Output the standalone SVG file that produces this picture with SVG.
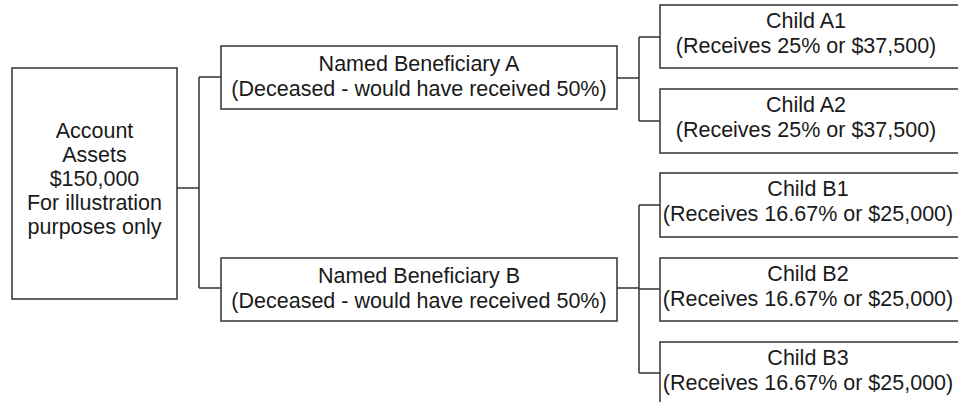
<svg xmlns="http://www.w3.org/2000/svg" width="958" height="402" viewBox="0 0 958 402">
<style>
.box{fill:#fff;stroke:#333;stroke-width:1.5}
.t{font-family:"Liberation Sans",Arial,sans-serif;font-size:21.5px;fill:#1a1a1a;text-anchor:middle}
.c{fill:none;stroke:#333;stroke-width:1.5}
</style>
<rect width="958" height="402" fill="#fff"/>
<g id="connectors">
<path class="c" d="M177,188H199M199,77V288M199,77H221M199,288H221"/>
<path class="c" d="M617,78H639M639,37V121M639,37H660M639,121H660"/>
<path class="c" d="M617,288H639M639,205V373M639,205H660M639,289H660M639,373H660"/>
</g>
<g id="account">
<rect class="box" x="12" y="68" width="165" height="231"/>
<text class="t" x="94.5" y="138">Account</text>
<text class="t" x="94.5" y="162">Assets</text>
<text class="t" x="94.5" y="186">$150,000</text>
<text class="t" x="94.5" y="210">For illustration</text>
<text class="t" x="94.5" y="234">purposes only</text>
</g>
<g id="beneficiaryA">
<rect class="box" x="221" y="46" width="396" height="63"/>
<text class="t" x="419" y="71">Named Beneficiary A</text>
<text class="t" x="419" y="96">(Deceased - would have received 50%)</text>
</g>
<g id="beneficiaryB">
<rect class="box" x="221" y="258" width="396" height="63"/>
<text class="t" x="419" y="283">Named Beneficiary B</text>
<text class="t" x="419" y="308">(Deceased - would have received 50%)</text>
</g>
<g id="childA1">
<rect class="box" x="660" y="5" width="310" height="63"/>
<text class="t" x="806" y="28">Child A1</text>
<text class="t" x="806" y="53">(Receives 25% or $37,500)</text>
</g>
<g id="childA2">
<rect class="box" x="660" y="89" width="310" height="64"/>
<text class="t" x="806" y="112">Child A2</text>
<text class="t" x="806" y="137">(Receives 25% or $37,500)</text>
</g>
<g id="childB1">
<rect class="box" x="660" y="173" width="310" height="64"/>
<text class="t" x="808" y="196">Child B1</text>
<text class="t" x="808" y="221">(Receives 16.67% or $25,000)</text>
</g>
<g id="childB2">
<rect class="box" x="660" y="258" width="310" height="63"/>
<text class="t" x="808" y="281">Child B2</text>
<text class="t" x="808" y="306">(Receives 16.67% or $25,000)</text>
</g>
<g id="childB3">
<rect class="box" x="660" y="342" width="310" height="64"/>
<text class="t" x="808" y="365">Child B3</text>
<text class="t" x="808" y="390">(Receives 16.67% or $25,000)</text>
</g>
</svg>
